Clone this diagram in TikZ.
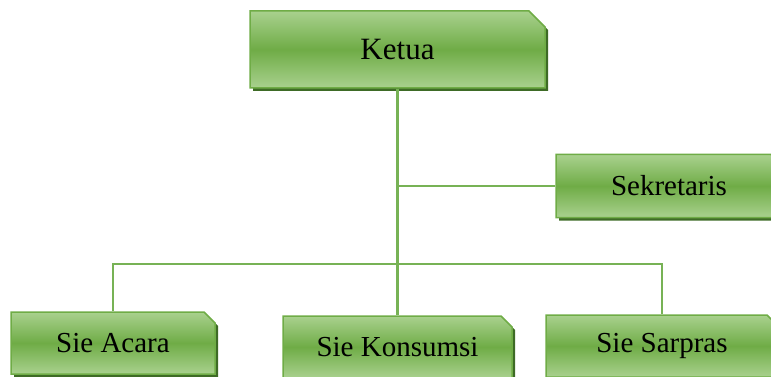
\documentclass[tikz,border=0pt]{standalone}
\usepackage{fontspec}
\setmainfont{Liberation Serif}
\usetikzlibrary{shapes.misc, shadows}
\definecolor{lightgreen}{HTML}{A9D18E}
\definecolor{midgreen}{HTML}{6FAC46}
\definecolor{darkgreen}{HTML}{3E6B26}
\definecolor{linegreen}{HTML}{77B255}
\tikzstyle{orgbox}=[chamfered rectangle, chamfered rectangle corners=north east,
  chamfered rectangle sep=5.5pt, draw=midgreen, line width=1.5pt,
  top color=lightgreen, bottom color=lightgreen, middle color=midgreen,
  drop shadow={shadow xshift=3pt, shadow yshift=-3pt, fill=darkgreen, opacity=1},
  inner sep=0pt, font=\fontsize{29}{34}\selectfont]
\tikzstyle{link}=[draw=linegreen, line width=2.5pt]

\begin{document}
\begin{tikzpicture}[x=1pt, y=-1pt]
  \useasboundingbox (0,0) rectangle (771,377);
  \node[orgbox, minimum width=295pt, minimum height=77pt, chamfered rectangle sep=8pt,
    font=\fontsize{31}{36}\selectfont] (ketua) at (397.5,49.5) {Ketua};
  \node[orgbox, minimum width=226pt, minimum height=63pt] (sekretaris) at (669,186) {Sekretaris};
  \node[orgbox, minimum width=204pt, minimum height=62pt] (acara) at (113,343) {Sie Acara};
  \node[orgbox, minimum width=229pt, minimum height=62pt] (konsumsi) at (397.5,347) {Sie Konsumsi};
  \node[orgbox, minimum width=232pt, minimum height=62pt] (sarpras) at (662,346) {Sie Sarpras};
  \coordinate (bus) at (397.5,264);
  \draw[link] (ketua.south) -- (konsumsi.north);
  \draw[link] (sekretaris.west) -- (sekretaris.west -| ketua.south);
  \draw[link] (acara.north) |- (bus) -| (sarpras.north);
\end{tikzpicture}
\end{document}
